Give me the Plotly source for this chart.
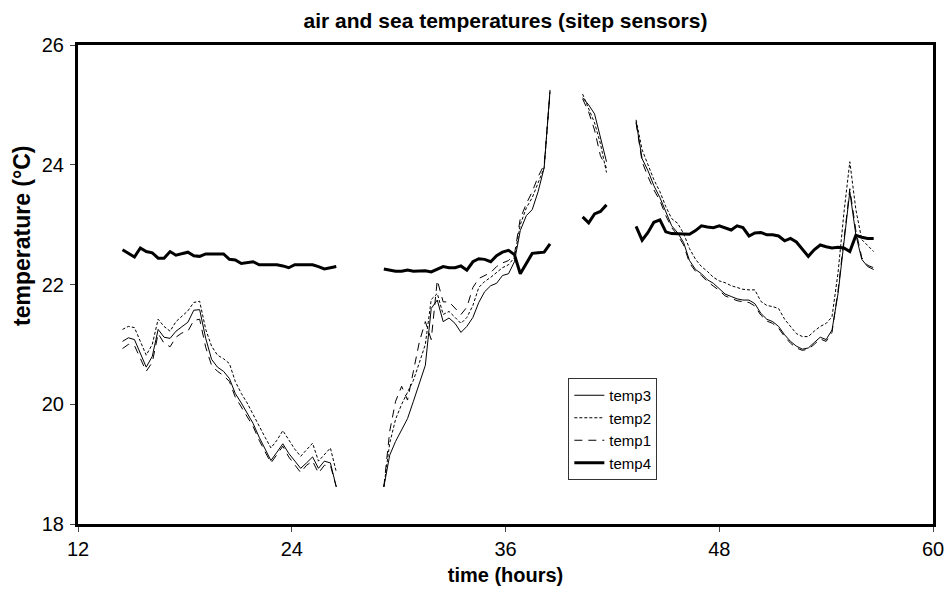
import plotly.graph_objects as go

# time (hours); None marks gaps in the record
time = [14.5, 14.83, 15.17, 15.5, 15.83, 16.17, 16.5, 16.83, 17.17, 17.5, 17.83, 18.17, 18.5, 18.83,
        19.17, 19.5, 19.83, 20.17, 20.5, 20.83, 21.17, 21.5, 21.83, 22.17, 22.5, 22.83, 23.17, 23.5,
        23.83, 24.17, 24.5, 24.83, 25.17, 25.5, 25.83, 26.17, 26.5,
        None,
        29.17, 29.5, 29.83, 30.17, 30.5, 30.83, 31.17, 31.5, 31.83, 32.17, 32.5, 32.83, 33.17, 33.5,
        33.83, 34.17, 34.5, 34.83, 35.17, 35.5, 35.83, 36.17, 36.5, 36.83, 37.17, 37.5, 37.83, 38.17, 38.5,
        None,
        40.33, 40.67, 41.0, 41.33, 41.67,
        None,
        43.33, 43.67, 44.0, 44.33, 44.67, 45.0, 45.33, 45.67, 46.0, 46.33, 46.67, 47.0, 47.33, 47.67,
        48.0, 48.33, 48.67, 49.0, 49.33, 49.67, 50.0, 50.33, 50.67, 51.0, 51.33, 51.67, 52.0, 52.33,
        52.67, 53.0, 53.33, 53.67, 54.0, 54.33, 54.67, 55.0, 55.33, 55.67, 56.0, 56.33, 56.67]

temp3 = [21.05, 21.11, 21.08, 20.85, 20.62, 20.80, 21.25, 21.12, 21.10, 21.22, 21.30, 21.37, 21.57, 21.58,
         21.10, 20.75, 20.62, 20.55, 20.43, 20.18, 20.02, 19.85, 19.68, 19.45, 19.25, 19.06, 19.20, 19.34,
         19.18, 19.05, 18.93, 19.02, 19.12, 18.93, 19.05, 19.02, 18.62,
         None,
         18.62, 19.15, 19.38, 19.58, 19.76, 20.05, 20.35, 20.65, 21.60, 21.74, 21.38, 21.44, 21.35, 21.20,
         21.30, 21.45, 21.70, 21.88, 21.98, 22.02, 22.15, 22.18, 22.38, 22.90, 23.15, 23.25, 23.55, 23.95, 25.25,
         None,
         25.12, 25.00, 24.85, 24.45, 24.05,
         None,
         24.72, 24.10, 23.90, 23.65, 23.45, 23.20, 22.98, 22.86, 22.70, 22.40, 22.25, 22.18, 22.08, 22.02,
         21.93, 21.84, 21.80, 21.76, 21.74, 21.74, 21.68, 21.52, 21.42, 21.38, 21.30, 21.16, 21.05, 20.97,
         20.92, 20.94, 21.03, 21.12, 21.08, 21.24, 21.85, 22.70, 23.55, 22.83, 22.42, 22.30, 22.25]

temp2 = [21.25, 21.30, 21.28, 21.05, 20.82, 21.00, 21.42, 21.30, 21.22, 21.38, 21.47, 21.56, 21.70, 21.72,
         21.25, 20.97, 20.82, 20.76, 20.68, 20.38, 20.18, 20.02, 19.83, 19.63, 19.45, 19.27, 19.40, 19.56,
         19.40, 19.25, 19.13, 19.24, 19.35, 19.05, 19.15, 19.27, 18.87,
         None,
         18.62, 19.35, 19.75, 20.00, 20.20, 20.40, 20.70, 21.00, 21.75, 21.85, 21.50, 21.55, 21.45, 21.35,
         21.45, 21.65, 21.95, 22.05, 22.12, 22.20, 22.28, 22.33, 22.45, 23.00, 23.28, 23.45, 23.70, 23.95, 25.22,
         None,
         25.18, 24.95, 24.70, 24.35, 23.87,
         None,
         24.75, 24.25, 24.00, 23.75, 23.55, 23.30, 23.10, 23.02, 22.85, 22.60, 22.42, 22.30, 22.22, 22.12,
         22.06, 22.03, 21.98, 21.95, 21.92, 21.91, 21.91, 21.72, 21.65, 21.63, 21.60, 21.42, 21.30, 21.18,
         21.13, 21.13, 21.22, 21.30, 21.35, 21.46, 22.20, 23.20, 24.05, 23.25, 22.75, 22.65, 22.55]

temp1 = [20.93, 21.00, 20.98, 20.75, 20.55, 20.70, 21.18, 21.02, 20.96, 21.12, 21.19, 21.22, 21.40, 21.42,
         20.95, 20.65, 20.55, 20.48, 20.38, 20.12, 19.96, 19.80, 19.63, 19.40, 19.20, 19.02, 19.16, 19.30,
         19.12, 18.98, 18.86, 18.98, 19.05, 18.85, 18.98, 18.98, 18.62,
         None,
         18.62, 19.55, 20.05, 20.30, 20.07, 20.55, 21.05, 21.38, 21.08, 22.07, 21.71, 21.71, 21.60, 21.50,
         21.62, 21.95, 22.10, 22.15, 22.20, 22.30, 22.36, 22.40, 22.50, 23.10, 23.35, 23.55, 23.80, 24.00, 25.20,
         None,
         25.10, 24.88, 24.58, 24.15, 23.95,
         None,
         24.70, 24.05, 23.80, 23.58, 23.40, 23.15, 22.95, 22.82, 22.66, 22.36, 22.22, 22.15, 22.05, 21.98,
         21.90, 21.81, 21.77, 21.73, 21.71, 21.70, 21.64, 21.49, 21.39, 21.35, 21.27, 21.13, 21.02, 20.94,
         20.90, 20.92, 21.00, 21.09, 21.05, 21.20, 21.90, 22.80, 23.60, 22.90, 22.45, 22.32, 22.28]

temp4 = [22.58, 22.52, 22.46, 22.61, 22.55, 22.53, 22.44, 22.44, 22.55, 22.49, 22.52, 22.54, 22.48, 22.47,
         22.51, 22.51, 22.51, 22.51, 22.42, 22.41, 22.35, 22.37, 22.38, 22.33, 22.33, 22.33, 22.33, 22.31,
         22.28, 22.33, 22.33, 22.33, 22.33, 22.30, 22.26, 22.28, 22.30,
         None,
         22.26, 22.24, 22.22, 22.22, 22.24, 22.22, 22.22, 22.23, 22.21, 22.25, 22.30, 22.28, 22.28, 22.31,
         22.24, 22.38, 22.43, 22.42, 22.38, 22.48, 22.54, 22.57, 22.50, 22.18, 22.35, 22.52, 22.53, 22.54, 22.68,
         None,
         23.13, 23.03, 23.18, 23.22, 23.33,
         None,
         22.97, 22.74, 22.87, 23.04, 23.08, 22.88, 22.85, 22.85, 22.84, 22.84, 22.90, 22.98, 22.96, 22.95,
         22.98, 22.94, 22.91, 22.98, 22.95, 22.81, 22.86, 22.87, 22.83, 22.83, 22.81, 22.73, 22.77, 22.71,
         22.58, 22.47, 22.58, 22.66, 22.63, 22.61, 22.62, 22.61, 22.55, 22.82, 22.79, 22.77, 22.77]

x_ticks = [12, 24, 36, 48, 60]
y_ticks = [18, 20, 22, 24, 26]

FONT = "Liberation Sans, Arial, sans-serif"

fig = go.Figure()
fig.add_trace(go.Scatter(x=time, y=temp3, name="temp3", mode="lines",
                         line=dict(color="black", width=1, dash="solid")))
fig.add_trace(go.Scatter(x=time, y=temp2, name="temp2", mode="lines",
                         line=dict(color="black", width=1, dash="3px,2px")))
fig.add_trace(go.Scatter(x=time, y=temp1, name="temp1", mode="lines",
                         line=dict(color="black", width=1, dash="8px,6px")))
fig.add_trace(go.Scatter(x=time, y=temp4, name="temp4", mode="lines",
                         line=dict(color="black", width=3)))

fig.update_layout(
    width=947, height=590,
    margin=dict(l=78, r=14, t=45, b=66),
    paper_bgcolor="white", plot_bgcolor="white",
    font=dict(family=FONT, color="black", size=20),
    title=dict(text="<b>air and sea temperatures (sitep sensors)</b>",
               x=0.5, xref="paper", xanchor="center",
               y=1 - 21 / 590, yanchor="middle",
               font=dict(size=21, family=FONT)),
    xaxis=dict(range=[12, 60], tickvals=x_ticks, ticks="outside", ticklen=5, tickwidth=1,
               showline=True, linewidth=3, linecolor="black", mirror=True, automargin=False,
               showgrid=False, zeroline=False, tickfont=dict(size=20),
               title=dict(text="<b>time (hours)</b>", font=dict(size=20), standoff=9)),
    yaxis=dict(range=[18, 26], tickvals=y_ticks, ticks="outside", ticklen=5, tickwidth=1,
               showline=True, linewidth=3, linecolor="black", mirror=True, automargin=False,
               showgrid=False, zeroline=False, tickfont=dict(size=20), ticklabelstandoff=2),
    annotations=[dict(text="<b>temperature (°C)</b>", textangle=-90, showarrow=False,
                      xref="paper", yref="paper", x=(22 - 78) / 855, y=(524 - 236) / 479,
                      xanchor="center", yanchor="middle", font=dict(size=23))],
    legend=dict(x=0.5735, y=0.3048, xanchor="left", yanchor="top",
                bgcolor="white", bordercolor="#333", borderwidth=1,
                font=dict(size=15, family=FONT), tracegroupgap=0),
    showlegend=True,
)

fig.write_html("out.html")
